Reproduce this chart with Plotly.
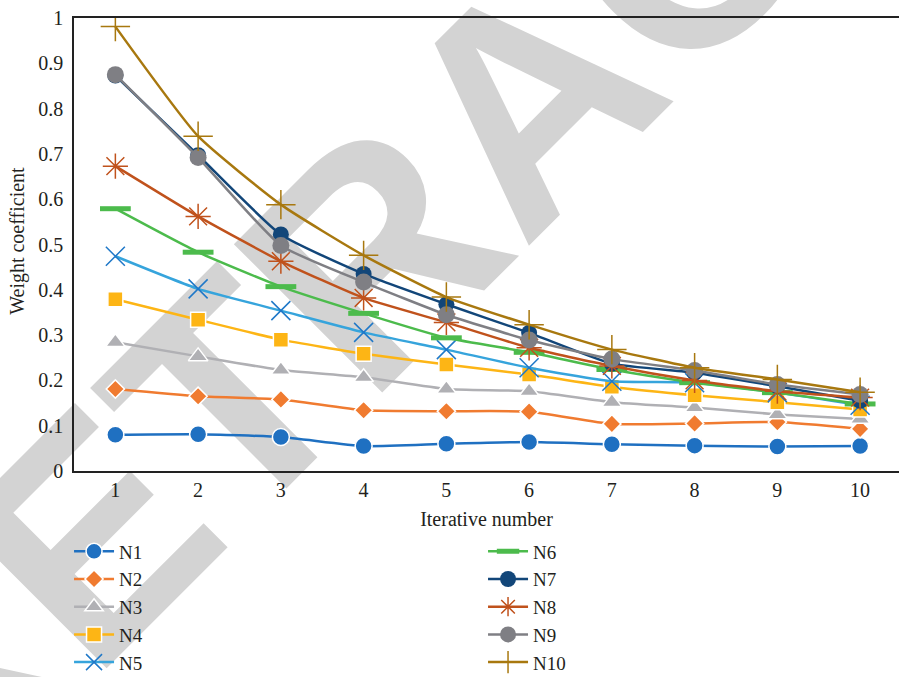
import plotly.graph_objects as go

# Iteration index and weight coefficients of the ten nodes
iterations = [1, 2, 3, 4, 5, 6, 7, 8, 9, 10]
n1 = [0.080, 0.081, 0.075, 0.055, 0.060, 0.064, 0.059, 0.056, 0.054, 0.055]
n2 = [0.181, 0.165, 0.158, 0.134, 0.132, 0.131, 0.104, 0.105, 0.108, 0.093]
n3 = [0.284, 0.253, 0.223, 0.207, 0.181, 0.176, 0.152, 0.140, 0.125, 0.115]
n4 = [0.379, 0.334, 0.290, 0.259, 0.235, 0.213, 0.186, 0.167, 0.152, 0.136]
n5 = [0.474, 0.402, 0.354, 0.306, 0.268, 0.228, 0.198, 0.195, 0.173, 0.145]
n6 = [0.579, 0.483, 0.407, 0.348, 0.294, 0.262, 0.224, 0.195, 0.173, 0.148]
n7 = [0.873, 0.697, 0.522, 0.435, 0.368, 0.305, 0.237, 0.217, 0.187, 0.155]
n8 = [0.673, 0.562, 0.463, 0.382, 0.328, 0.272, 0.232, 0.200, 0.176, 0.162]
n9 = [0.875, 0.692, 0.498, 0.417, 0.345, 0.289, 0.247, 0.222, 0.191, 0.169]
n10 = [0.981, 0.739, 0.588, 0.476, 0.384, 0.323, 0.268, 0.228, 0.202, 0.174]

names = ["N1", "N2", "N3", "N4", "N5", "N6", "N7", "N8", "N9", "N10"]
series = [n1, n2, n3, n4, n5, n6, n7, n8, n9, n10]

# Per-series style: line colour, marker symbol, marker size, marker colour,
# marker outline colour/width
styles = [
    ("#1f70c1", "circle", 17, "#1f70c1", "white", 1.5),
    ("#f07b30", "diamond", 14, "#f07b30", "white", 1.5),
    ("#b0b0b4", "triangle-up", 17, "#b0b0b4", "white", 1.5),
    ("#fdb515", "square", 15, "#fdb515", "white", 1.5),
    ("#36a4dc", "x-thin-open", 19, "#1f78c8", "#1f78c8", 1.5),
    ("#4cbb4c", "line-ew-open", 22, "#4cbb4c", "#4cbb4c", 5),
    ("#124679", "circle", 16, "#124679", "#124679", 0),
    ("#c0521c", "asterisk-open", 21, "#c0521c", "#c0521c", 1.5),
    ("#7f7f84", "circle", 17, "#7f7f84", "#7f7f84", 0),
    ("#a8780f", "cross-thin-open", 21, "#a8780f", "#a8780f", 1.5),
]

TXT = "#231f20"
SERIF = "Liberation Serif"

fig = go.Figure()
for i, (name, vals, st) in enumerate(zip(names, series, styles)):
    lc, sym, size, mc, olc, olw = st
    fig.add_trace(go.Scatter(
        x=iterations, y=vals, name=name, mode="lines+markers",
        line=dict(color=lc, width=2.5, shape="spline", smoothing=0.5),
        marker=dict(symbol=sym, size=size, color=mc,
                    line=dict(color=olc, width=olw)),
        legend="legend" if i < 5 else "legend2",
    ))

# Diagonal "RETRACTED" stamp drawn behind the data
fig.add_shape(
    type="rect", xref="paper", yref="paper",
    x0=0.523, x1=0.525, y0=0.866, y1=0.868,
    line=dict(width=0), fillcolor="rgba(0,0,0,0)", layer="below",
    label=dict(text="RETRACTED", textangle=-45, textposition="middle center",
               font=dict(family="Liberation Sans", size=305,
                         color="#d3d3d3", weight="bold")),
)

# Vertical axis title
fig.add_annotation(
    text="Weight coefficient", xref="paper", yref="paper",
    x=-0.068, y=0.508, xanchor="center", yanchor="middle",
    textangle=-90, showarrow=False,
    font=dict(family=SERIF, size=20, color=TXT),
)

legend_common = dict(
    orientation="v", xanchor="left", yanchor="top",
    xref="container", yref="container",
    font=dict(family=SERIF, size=19, color=TXT),
    bgcolor="rgba(0,0,0,0)", borderwidth=0, itemwidth=40,
    tracegroupgap=0,
)

fig.update_layout(
    width=899, height=677,
    margin=dict(l=74, r=0, t=18, b=206, autoexpand=False),
    paper_bgcolor="white", plot_bgcolor="rgba(0,0,0,0)",
    font=dict(family=SERIF, size=20, color=TXT),
    showlegend=True,
    legend=dict(x=0.0768, y=0.2135, **legend_common),
    legend2=dict(x=0.5373, y=0.2135, **legend_common),
    xaxis=dict(
        range=[0.5, 10.47], tickvals=iterations, ticks="",
        showgrid=False, zeroline=False,
        showline=True, linecolor="#222222", linewidth=1.5, mirror=True,
        tickfont=dict(family=SERIF, size=20, color=TXT),
        title=dict(text="Iterative number", standoff=12,
                   font=dict(family=SERIF, size=20, color=TXT)),
    ),
    yaxis=dict(
        range=[0, 1], dtick=0.1, tick0=0, ticks="",
        showgrid=False, zeroline=False, automargin=False,
        showline=True, linecolor="#222222", linewidth=1.5,
        ticklabelstandoff=5,
        tickfont=dict(family=SERIF, size=20, color=TXT),
    ),
)

fig.write_html("out.html")
